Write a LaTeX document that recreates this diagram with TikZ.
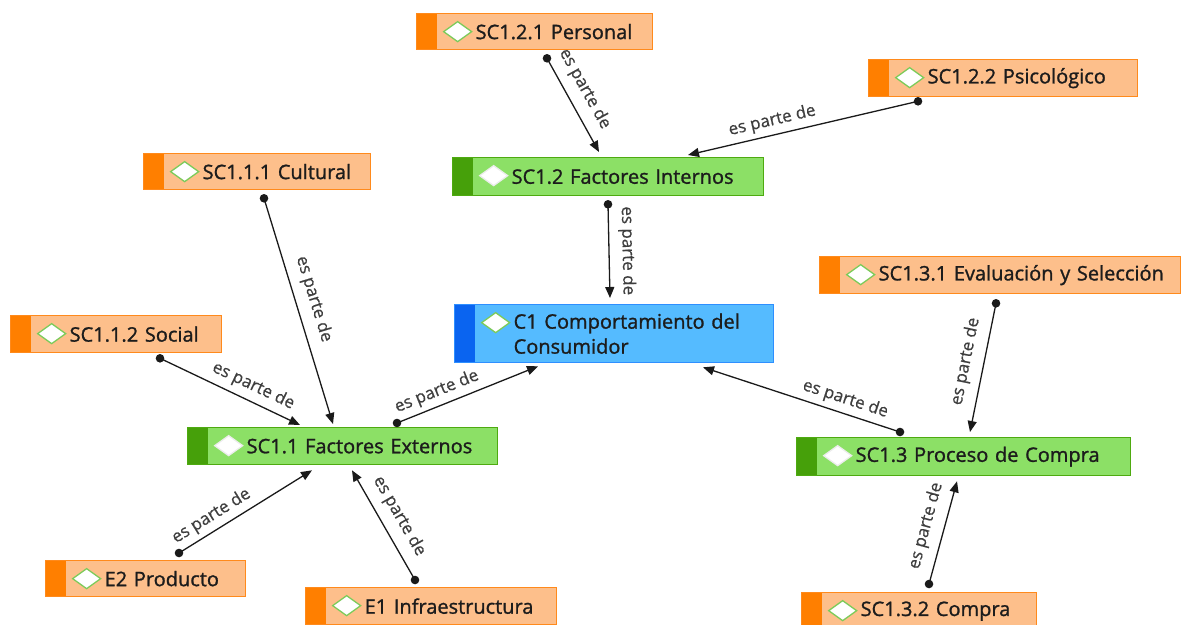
\documentclass[tikz,border=0pt]{standalone}
\usepackage{fontspec}
\setmainfont{Open Sans}
\newfontfamily\conceptfont{Open Sans}[RawFeature={embolden=1.2}]
\newfontfamily\linkfont{Open Sans}[RawFeature={embolden=0.6}]
\usetikzlibrary{calc,arrows.meta}

\definecolor{ofill}{HTML}{FDBF8B}
\definecolor{oline}{HTML}{FF8A1C}
\definecolor{ostrip}{HTML}{FF7F00}
\definecolor{gfill}{HTML}{8CE066}
\definecolor{gline}{HTML}{4EAA10}
\definecolor{gstrip}{HTML}{46A00A}
\definecolor{bfill}{HTML}{55BBFF}
\definecolor{bline}{HTML}{2E8FFF}
\definecolor{bstrip}{HTML}{0A64F0}
\definecolor{dmline}{HTML}{7CCB5A}
\definecolor{ink}{HTML}{1C1C1C}
\definecolor{linkc}{HTML}{1A1A1A}

\tikzset{
  concept/.style n args={4}{% fill, border, strip, diamond border
    draw=#2, fill=#1, line width=1.3pt, anchor=north west,
    inner xsep=0pt, inner ysep=0pt, align=left, text=ink,
    font=\conceptfont\fontsize{20}{25}\selectfont,
    path picture={
      \fill[#3] (path picture bounding box.north west) rectangle
        ([xshift=20pt]path picture bounding box.south west);
      \draw[fill=white, draw=#4, line width=1.3pt]
        ([xshift=41pt,yshift=-18pt]path picture bounding box.north west)
        +(-14,0) -- +(0,-10) -- +(14,0) -- +(0,10) -- cycle;
    }},
  obox/.style={concept={ofill}{oline}{ostrip}{dmline}},
  gbox/.style={concept={gfill}{gline}{gstrip}{white!85!gray}},
  bbox/.style={concept={bfill}{bline}{bstrip}{dmline}},
  link/.style={draw=linkc, line width=1.3pt, -{Triangle[length=11pt,width=9pt]}},
  lab/.style={sloped, text=ink!85, inner sep=3pt, font=\linkfont\fontsize{17}{20}\selectfont},
}
\newcommand\ind{\hspace*{59pt}}
\newcommand\partof[4]{%
  \fill[linkc] (#1) circle (4.3);
  \draw[link] (#1) -- (#2) node[lab, pos=#3, #4] {es parte de};}

\begin{document}
\begin{tikzpicture}[x=1pt, y=-1pt]
\useasboundingbox[fill=white] (0,0) rectangle (1185,624);

% concepts
\node[obox, text width=236pt, minimum height=36pt] (per) at (416,13) {\ind SC1.2.1 Personal};
\node[obox, text width=269pt, minimum height=37pt] (psi) at (868,59) {\ind SC1.2.2 Psicológico};
\node[obox, text width=227pt, minimum height=36pt] (cul) at (143,153) {\ind SC1.1.1 Cultural};
\node[gbox, text width=311pt, minimum height=38pt] (fi)  at (452,157) {\ind SC1.2 Factores Internos};
\node[obox, text width=361pt, minimum height=37pt] (eva) at (819,256) {\ind SC1.3.1 Evaluación y Selección};
\node[obox, text width=211pt, minimum height=37pt] (soc) at (10,315)  {\ind SC1.1.2 Social};
\node[bbox, text width=319pt, minimum height=58pt] (c1)  at (454,304) {\ind C1 Comportamiento del\\\ind Consumidor};
\node[gbox, text width=310pt, minimum height=37pt] (fe)  at (187,427) {\ind SC1.1 Factores Externos};
\node[gbox, text width=334pt, minimum height=38pt] (pc)  at (796,437) {\ind SC1.3 Proceso de Compra};
\node[obox, text width=200pt, minimum height=36pt] (e2)  at (45,560)  {\ind E2 Producto};
\node[obox, text width=251pt, minimum height=37pt] (e1)  at (305,587) {\ind E1 Infraestructura};
\node[obox, text width=235pt, minimum height=37pt] (com) at (801,592) {\ind SC1.3.2 Compra};

% link end points
\coordinate (s1)  at ($(per.south west)+(131,8)$);
\coordinate (t1)  at ($(fi.north west)+(147,-5)$);
\coordinate (s2)  at ($(psi.south west)+(50,4)$);
\coordinate (t2)  at ($(fi.north west)+(236,-2)$);
\coordinate (s3)  at ($(fi.south west)+(156,8)$);
\coordinate (t3)  at ($(c1.north west)+(156,-6)$);
\coordinate (s4)  at ($(cul.south west)+(121,8)$);
\coordinate (t4)  at ($(fe.north west)+(146,-3)$);
\coordinate (s5)  at ($(soc.south west)+(150,5)$);
\coordinate (t5)  at ($(fe.north west)+(113,-2)$);
\coordinate (s6)  at ($(fe.north west)+(210,-4)$);
\coordinate (t6)  at ($(c1.south west)+(84,3)$);
\coordinate (s7)  at ($(e2.north west)+(134,-7)$);
\coordinate (t7)  at ($(fe.south west)+(125,5)$);
\coordinate (s8)  at ($(e1.north west)+(110,-7)$);
\coordinate (t8)  at ($(fe.south west)+(165,5)$);
\coordinate (s9)  at ($(pc.north west)+(104,-5)$);
\coordinate (t9)  at ($(c1.south west)+(249,4)$);
\coordinate (s10) at ($(eva.south west)+(177,9)$);
\coordinate (t10) at ($(pc.north west)+(174,-5)$);
\coordinate (s11) at ($(com.north west)+(128,-8)$);
\coordinate (t11) at ($(pc.south west)+(161,5)$);

% "es parte de" links
\partof{s1}{t1}{0.42}{above=6pt}
\partof{s2}{t2}{0.62}{above=2pt}
\partof{s3}{t3}{0.5}{above=6pt}
\partof{s4}{t4}{0.47}{above=6pt}
\partof{s5}{t5}{0.62}{above=3pt}
\partof{s6}{t6}{0.32}{above=2pt}
\partof{s7}{t7}{0.3}{above=2pt}
\partof{s8}{t8}{0.5}{above=6pt}
\partof{s9}{t9}{0.3}{above=2pt}
\partof{s10}{t10}{0.48}{above=6pt}
\partof{s11}{t11}{0.52}{above=6pt}
\end{tikzpicture}
\end{document}
